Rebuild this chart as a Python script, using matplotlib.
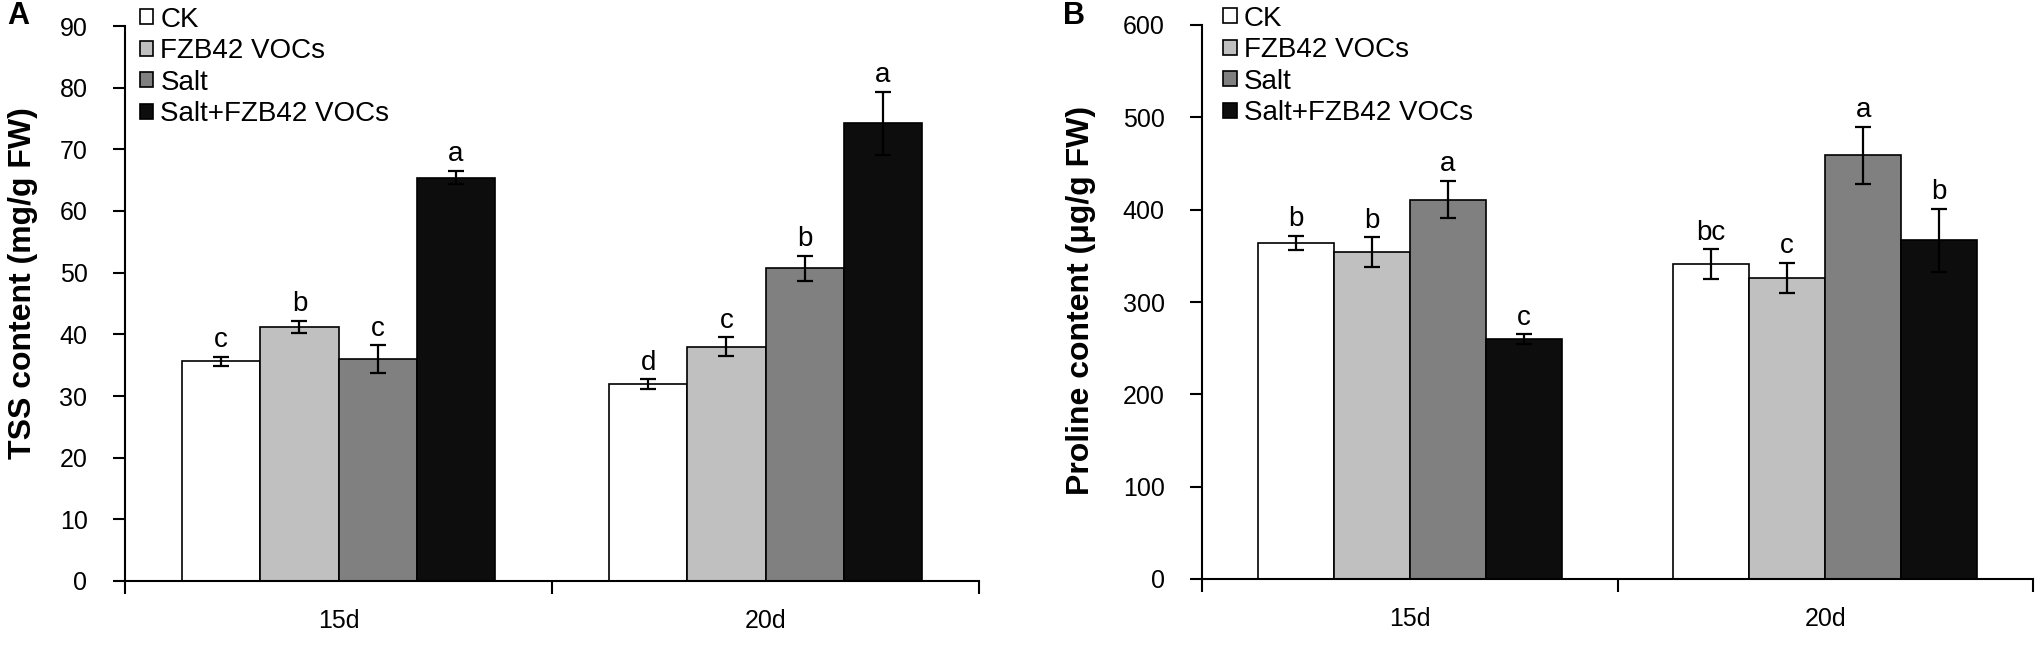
import matplotlib
matplotlib.use("Agg")
import matplotlib.pyplot as plt
import numpy as np

plt.rcParams['font.family'] = ['Liberation Sans', 'DejaVu Sans']

# Data
days = ["15d", "20d"]
treatments = ["CK", "FZB42 VOCs", "Salt", "Salt+FZB42 VOCs"]
colors = ["#ffffff", "#c0c0c0", "#808080", "#0d0d0d"]

tss_mean = [[35.6, 31.9],     # CK
            [41.2, 38.0],     # FZB42 VOCs
            [36.0, 50.7],     # Salt
            [65.4, 74.2]]     # Salt+FZB42 VOCs
tss_err = [[0.8, 0.8],
           [1.0, 1.5],
           [2.2, 2.0],
           [1.1, 5.1]]
tss_letters = [["c", "d"], ["b", "c"], ["c", "b"], ["a", "a"]]

pro_mean = [[364, 341],
            [354, 326],
            [411, 459],
            [260, 367]]
pro_err = [[8, 16],
           [16, 16],
           [20, 31],
           [5, 34]]
pro_letters = [["b", "bc"], ["b", "c"], ["a", "a"], ["c", "b"]]

W, H = 2044, 647
fig = plt.figure(figsize=(W / 100, H / 100), dpi=100)

def px_axes(x0, x1, y_top, y_bot):
    return fig.add_axes([x0 / W, 1 - y_bot / H, (x1 - x0) / W, (y_bot - y_top) / H])

axA = px_axes(125, 979, 26, 581)
axB = px_axes(1202, 2033, 25, 579)

bw = 0.183
x = np.arange(len(days))

def draw(ax, means, errs, letters, ymax, ystep, legend_x):
    for i in range(len(treatments)):
        pos = x + (i - 1.5) * bw
        ax.bar(pos, means[i], bw, color=colors[i], edgecolor="black", linewidth=1.2,
               label=treatments[i], zorder=2)
        ax.errorbar(pos, means[i], yerr=errs[i], fmt="none", ecolor="black",
                    elinewidth=1.6, capsize=6, capthick=1.6, zorder=3)
        for j in range(len(days)):
            ax.annotate(letters[i][j], (pos[j], means[i][j] + errs[i][j]),
                        xytext=(0, 7), textcoords="offset points",
                        ha="center", va="baseline", fontsize=20)
    ax.set_xlim(-0.5, 1.5)
    ax.set_ylim(0, ymax)
    ax.set_yticks(np.arange(0, ymax + 1, ystep))
    ax.set_xticks([-0.5, 0.5, 1.5])
    ax.set_xticklabels([])
    ax.set_xticks(x, minor=True)
    ax.set_xticklabels(days, minor=True, fontsize=18)
    ax.tick_params(axis="x", which="minor", length=0, pad=20)
    ax.tick_params(axis="x", which="major", direction="out", length=9, width=1.5)
    ax.tick_params(axis="y", direction="out", length=9, width=1.5, labelsize=18, pad=18)
    for s in ["top", "right"]:
        ax.spines[s].set_visible(False)
    for s in ["left", "bottom"]:
        ax.spines[s].set_linewidth(1.5)
    ax.legend(loc="upper left", bbox_to_anchor=(legend_x, 1.035), frameon=False,
              fontsize=20, handlelength=0.5, handleheight=0.45, handletextpad=0.25,
              labelspacing=0.2, borderpad=0, borderaxespad=0)

draw(axA, tss_mean, tss_err, tss_letters, 90, 10, 0.017)
draw(axB, pro_mean, pro_err, pro_letters, 600, 100, 0.025)

fig.text(23 / W, 1 - 283 / H, "TSS content (mg/g FW)", rotation=90, ha="center",
         va="center", fontsize=23, fontweight="bold")
fig.text(1081 / W, 1 - 300 / H, "Proline content (\u03bcg/g FW)", rotation=90, ha="center",
         va="center", fontsize=23, fontweight="bold")
fig.text(7 / W, 0.998, "A", ha="left", va="top", fontsize=22, fontweight="bold")
fig.text(1063 / W, 0.998, "B", ha="left", va="top", fontsize=22, fontweight="bold")

fig.savefig("out.png", dpi=100)
